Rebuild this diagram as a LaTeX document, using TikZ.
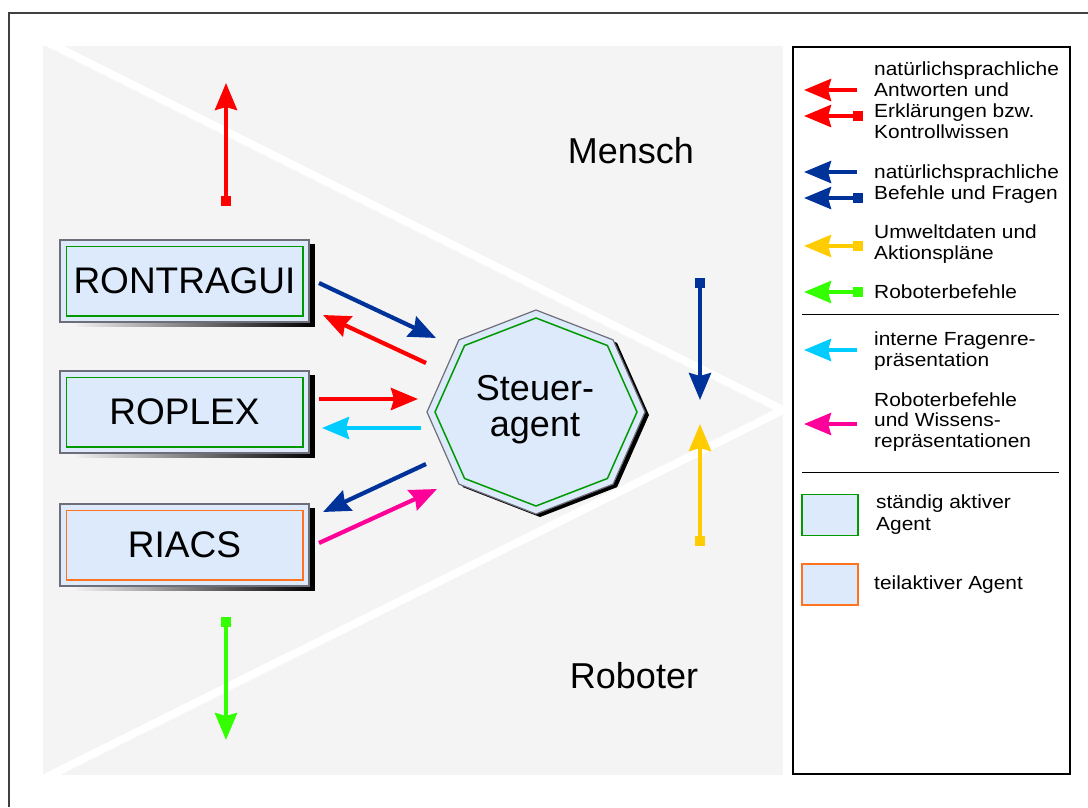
\documentclass[tikz,border=0pt]{standalone}
\usepackage{fontspec}
\setmainfont{Liberation Sans}
\newfontfamily\legfont{Liberation Sans}[FakeStretch=1.1]
\usetikzlibrary{arrows.meta}

\definecolor{bggray}{RGB}{244,244,244}
\definecolor{agentfill}{RGB}{220,234,252}
\definecolor{agentgreen}{RGB}{0,153,0}
\definecolor{agentorange}{RGB}{255,115,30}
\definecolor{frameg}{RGB}{110,110,120}
\definecolor{cred}{RGB}{255,0,0}
\definecolor{cblue}{RGB}{0,51,153}
\definecolor{cyellow}{RGB}{255,204,0}
\definecolor{cgreen}{RGB}{51,255,0}
\definecolor{ccyan}{RGB}{0,204,255}
\definecolor{cmagenta}{RGB}{255,0,153}

% stacked lines with a fixed line distance; baseline = first line
\newcommand\lines[2]{\vtop{\baselineskip=#1\lineskiplimit=-20pt\lineskip=0pt #2}}
% octagon with radii #1 (horizontal) and #2 (vertical)
\newcommand\octpath[2]{(0:#1 and #2) -- (45:#1 and #2) -- (90:#1 and #2) -- (135:#1 and #2)
  -- (180:#1 and #2) -- (225:#1 and #2) -- (270:#1 and #2) -- (315:#1 and #2) -- cycle}

\tikzset{
  flow/.style={line width=4.2pt, -{Stealth[length=27pt,width=22pt,inset=3pt]}},
  sqflow/.style={line width=4.2pt, {Square[length=10pt,width=10pt]}-{Stealth[length=27pt,width=22pt,inset=3pt]}},
  agent/.style={draw=frameg, line width=1.5pt, fill=agentfill,
    minimum width=249pt, minimum height=82pt, inner sep=0pt,
    font=\fontsize{37}{40}\selectfont},
  keybox/.style={line width=1.5pt, fill=agentfill, minimum width=56pt,
    minimum height=41pt, inner sep=0pt},
  legtext/.style={anchor=base west, inner sep=0pt,
    font=\legfont\fontsize{19}{21}\selectfont},
  bigtext/.style={inner sep=0pt, font=\fontsize{36}{38}\selectfont}
}

\newcommand\boxshadow[1]{%
  \fill[black] ([shift={(0.5,5)}]#1.north east) rectangle ([shift={(5,4)}]#1.south east);
  \shade[left color=black!6, right color=black]
    ([shift={(17,0.5)}]#1.south west) rectangle ([shift={(5,4)}]#1.south east);
}

\begin{document}
\begin{tikzpicture}[x=1pt,y=-1pt]
\useasboundingbox (0,0) rectangle (1088,807);
\fill[white] (0,0) rectangle (1088,807);

% outer frame
\draw[line width=2pt, black!75] (9,807) -- (9,13) -- (1088,13);

% grey field with the white wedge
\fill[bggray] (43,46) rectangle (783,775);
\begin{scope}
  \clip (43,46) rectangle (783,775);
  \draw[white, line width=8pt, line join=miter] (43,40) -- (783,410) -- (43,779);
\end{scope}

% region labels
\node[bigtext, anchor=base] (mensch) at (631,163) {Mensch};
\node[bigtext, anchor=base] (roboter) at (634,688) {Roboter};

% agents
\node[agent] (rontragui) at (184.5,281) {RONTRAGUI};
\node[agent] (roplex) at (184.5,412) {ROPLEX};
\node[agent] (riacs) at (184.5,545) {RIACS};
\boxshadow{rontragui}
\boxshadow{roplex}
\boxshadow{riacs}
\draw[agentgreen, line width=1.5pt] ([shift={(7,7)}]rontragui.north west) rectangle ([shift={(-7,-7)}]rontragui.south east);
\draw[agentgreen, line width=1.5pt] ([shift={(7,7)}]roplex.north west) rectangle ([shift={(-7,-7)}]roplex.south east);
\draw[agentorange, line width=1.5pt] ([shift={(7,7)}]riacs.north west) rectangle ([shift={(-7,-7)}]riacs.south east);

% control agent (octagon) with its drop shadow
\begin{scope}[shift={(540,415)}]
  \fill[black] \octpath{109}{102};
\end{scope}
\begin{scope}[shift={(536,412)}]
  \draw[frameg, fill=agentfill, line width=1.2pt] \octpath{109}{102};
  \draw[agentgreen, line width=1.5pt] \octpath{101}{94};
\end{scope}
\node[bigtext, anchor=base] (steuer) at (535,400) {\lines{36pt}{\hbox to 0pt{\hss Steuer-\hss}\hbox to 0pt{\hss agent\hss}}};

% connector end points
\coordinate (a1s) at (319,283); \coordinate (a1e) at (436,338);
\coordinate (a2s) at (426,363); \coordinate (a2e) at (323,315);
\coordinate (a3s) at (319,399); \coordinate (a3e) at (418,399);
\coordinate (a4s) at (421,428); \coordinate (a4e) at (322,428);
\coordinate (a5s) at (426,464); \coordinate (a5e) at (323,512);
\coordinate (a6s) at (319,543); \coordinate (a6e) at (437,489);
\coordinate (uprs) at (226,206); \coordinate (upre) at (226,83);
\coordinate (dngs) at (226,617); \coordinate (dnge) at (226,740);
\coordinate (dnbs) at (700,278); \coordinate (dnbe) at (700,400);
\coordinate (upys) at (700,546); \coordinate (upye) at (700,424);

\draw[flow, cblue] (a1s) -- (a1e);
\draw[flow, cred] (a2s) -- (a2e);
\draw[flow, cred] (a3s) -- (a3e);
\draw[flow, ccyan] (a4s) -- (a4e);
\draw[flow, cblue] (a5s) -- (a5e);
\draw[flow, cmagenta] (a6s) -- (a6e);
\draw[sqflow, cred] (uprs) -- (upre);
\draw[sqflow, cgreen] (dngs) -- (dnge);
\draw[sqflow, cblue] (dnbs) -- (dnbe);
\draw[sqflow, cyellow] (upys) -- (upye);

% legend
\draw[line width=1.5pt] (793,47) rectangle (1070,774);
\draw[flow, cred] (857,90) -- (804,90);
\draw[sqflow, cred] (863,116) -- (804,116);
\draw[flow, cblue] (857,172) -- (804,172);
\draw[sqflow, cblue] (863,198) -- (804,198);
\draw[sqflow, cyellow] (863,246) -- (804,246);
\draw[sqflow, cgreen] (863,292) -- (804,292);
\draw[line width=1pt] (802,314) -- (1059,314);
\draw[flow, ccyan] (857,350) -- (804,350);
\draw[flow, cmagenta] (857,424) -- (804,424);
\draw[line width=1pt] (802,472) -- (1059,472);
\node[keybox, draw=agentgreen] (keyfull) at (830,515) {};
\node[keybox, draw=agentorange] (keypart) at (830,584.5) {};

\node[legtext] (l1) at (874,75) {\lines{21pt}{\hbox{natürlichsprachliche}\hbox{Antworten und}\hbox{Erklärungen bzw.}\hbox{Kontrollwissen}}};
\node[legtext] (l2) at (874,178) {\lines{21pt}{\hbox{natürlichsprachliche}\hbox{Befehle und Fragen}}};
\node[legtext] (l3) at (874,238) {\lines{21pt}{\hbox{Umweltdaten und}\hbox{Aktionspläne}}};
\node[legtext] (l4) at (874,298) {Roboterbefehle};
\node[legtext] (l5) at (874,345) {\lines{21pt}{\hbox{interne Fragenre-}\hbox{präsentation}}};
\node[legtext] (l6) at (874,406) {\lines{20.5pt}{\hbox{Roboterbefehle}\hbox{und Wissens-}\hbox{repräsentationen}}};
\node[legtext] (l7) at (876,508) {\lines{22pt}{\hbox{ständig aktiver}\hbox{Agent}}};
\node[legtext] (l8) at (874,589) {teilaktiver Agent};
\end{tikzpicture}
\end{document}
